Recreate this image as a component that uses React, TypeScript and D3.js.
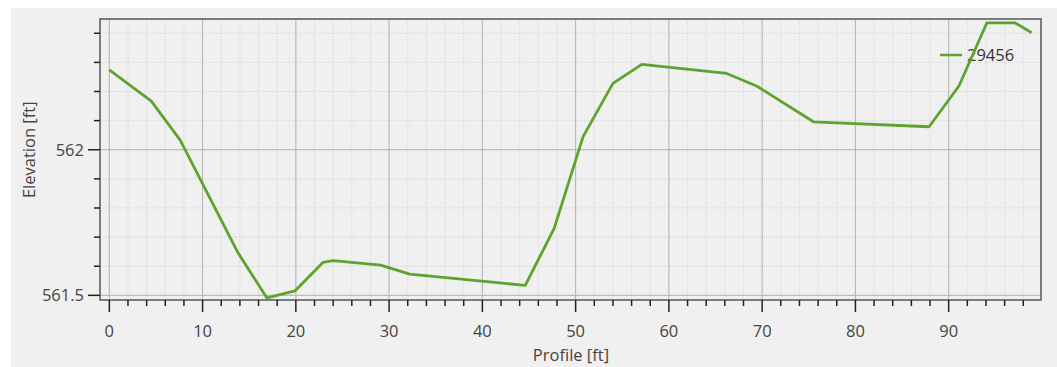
import * as d3 from "d3";

const WIDTH = 1057;
const HEIGHT = 367;
const MARGIN = { top: 19, right: 16, bottom: 67, left: 100 };

// profile station (ft) and elevation (ft)
const profile = [0, 4.5, 7.6, 13.8, 16.9, 19.9, 22.9, 24.0, 29.1, 32.2, 44.6, 47.7, 50.8, 54.0, 57.1, 66.2, 69.4, 75.5, 87.9, 91.1, 94.1, 97.1, 98.9];
const elevation = [562.274, 562.167, 562.033, 561.646, 561.491, 561.515, 561.613, 561.619, 561.604, 561.573, 561.534, 561.73, 562.045, 562.228, 562.293, 562.262, 562.219, 562.096, 562.079, 562.219, 562.436, 562.436, 562.402];

const xMajorTicks = [0, 10, 20, 30, 40, 50, 60, 70, 80, 90];
const yMajorTicks = [561.5, 562];
const seriesName = "29456";

const FONT = "'Open Sans', 'Noto Sans', sans-serif";
const FONT_SIZE = 16.5;
const LINE_COLOR = "#5ea32d";

export default function App() {
  const boundsWidth = WIDTH - MARGIN.left - MARGIN.right;
  const boundsHeight = HEIGHT - MARGIN.top - MARGIN.bottom;

  const xScale = d3.scaleLinear().domain([-1, 99.9]).range([0, boundsWidth]);
  const yScale = d3.scaleLinear().domain([561.484, 562.449]).range([boundsHeight, 0]);

  // minor ticks: every 2 ft on x, every 0.1 ft on y
  const xMinor = d3.range(0, 100, 2);
  const yMinor = d3.range(561.5, 562.45, 0.1);

  const data = profile.map((x, i) => ({ x, y: elevation[i] }));
  const linePath = d3
    .line<{ x: number; y: number }>()
    .x((d) => xScale(d.x))
    .y((d) => yScale(d.y))(data);

  const legendX = 840;
  const legendY = 36;

  return (
    <div style={{ position: "absolute", left: 0, top: 0 }}>
      <svg width={WIDTH} height={HEIGHT} style={{ display: "block" }}>
        <rect x={0} y={0} width={WIDTH} height={HEIGHT} fill="#ffffff" />
        <rect x={11} y={8} width={WIDTH - 11} height={HEIGHT - 8} fill="#f0f0f0" />
        <g transform={`translate(${MARGIN.left},${MARGIN.top})`}>
          {/* minor grid */}
          {xMinor.map((t) => (
            <line key={"gx" + t} x1={xScale(t)} x2={xScale(t)} y1={0} y2={boundsHeight}
              stroke="#d6d6d6" strokeWidth={1} strokeDasharray="1,1" />
          ))}
          {yMinor.map((t) => (
            <line key={"gy" + t} x1={0} x2={boundsWidth} y1={yScale(t)} y2={yScale(t)}
              stroke="#d6d6d6" strokeWidth={1} strokeDasharray="1,1" />
          ))}
          {/* major grid */}
          {xMajorTicks.map((t) => (
            <line key={"Gx" + t} x1={xScale(t)} x2={xScale(t)} y1={0} y2={boundsHeight}
              stroke="#b4b4b4" strokeWidth={1} />
          ))}
          {yMajorTicks.map((t) => (
            <line key={"Gy" + t} x1={0} x2={boundsWidth} y1={yScale(t)} y2={yScale(t)}
              stroke="#b4b4b4" strokeWidth={1} />
          ))}

          {/* legend */}
          <line x1={legendX} x2={legendX + 22} y1={legendY} y2={legendY} stroke={LINE_COLOR} strokeWidth={2.5} />
          <text x={legendX + 27} y={legendY} dy="0.35em" fontFamily={FONT} fontSize={FONT_SIZE} fill="#333">
            {seriesName}
          </text>

          {/* frame */}
          <rect x={0} y={0} width={boundsWidth} height={boundsHeight} fill="none" stroke="#555" strokeWidth={1.5} />

          <path d={linePath ?? ""} fill="none" stroke={LINE_COLOR} strokeWidth={2.8} strokeLinejoin="round" />

          {/* x axis ticks */}
          {xMinor.map((t) => (
            <line key={"tx" + t} x1={xScale(t)} x2={xScale(t)} y1={boundsHeight}
              y2={boundsHeight + (t % 10 === 0 ? 12 : 6)} stroke="#222" strokeWidth={1.5} />
          ))}
          {xMajorTicks.map((t) => (
            <text key={"lx" + t} x={xScale(t)} y={boundsHeight + 31} dy="0.35em" textAnchor="middle"
              fontFamily={FONT} fontSize={FONT_SIZE} fill="#444">
              {t}
            </text>
          ))}
          {/* y axis ticks */}
          {yMinor.map((t) => {
            const major = yMajorTicks.some((m) => Math.abs(m - t) < 1e-6);
            return (
              <line key={"ty" + t} x1={major ? -12 : -6} x2={0} y1={yScale(t)} y2={yScale(t)}
                stroke="#222" strokeWidth={1.5} />
            );
          })}
          {yMajorTicks.map((t) => (
            <text key={"ly" + t} x={-16} y={yScale(t)} dy="0.35em" textAnchor="end"
              fontFamily={FONT} fontSize={FONT_SIZE} fill="#444">
              {d3.format("~g")(t)}
            </text>
          ))}

          {/* axis titles */}
          <text x={xScale(49.5)} y={boundsHeight + 55} dy="0.35em" textAnchor="middle"
            fontFamily={FONT} fontSize={FONT_SIZE} fill="#444">
            Profile [ft]
          </text>
          <text transform={`translate(${-71},${yScale(562)}) rotate(-90)`} dy="0.35em" textAnchor="middle"
            fontFamily={FONT} fontSize={FONT_SIZE} fill="#444">
            Elevation [ft]
          </text>
        </g>
      </svg>
    </div>
  );
}
